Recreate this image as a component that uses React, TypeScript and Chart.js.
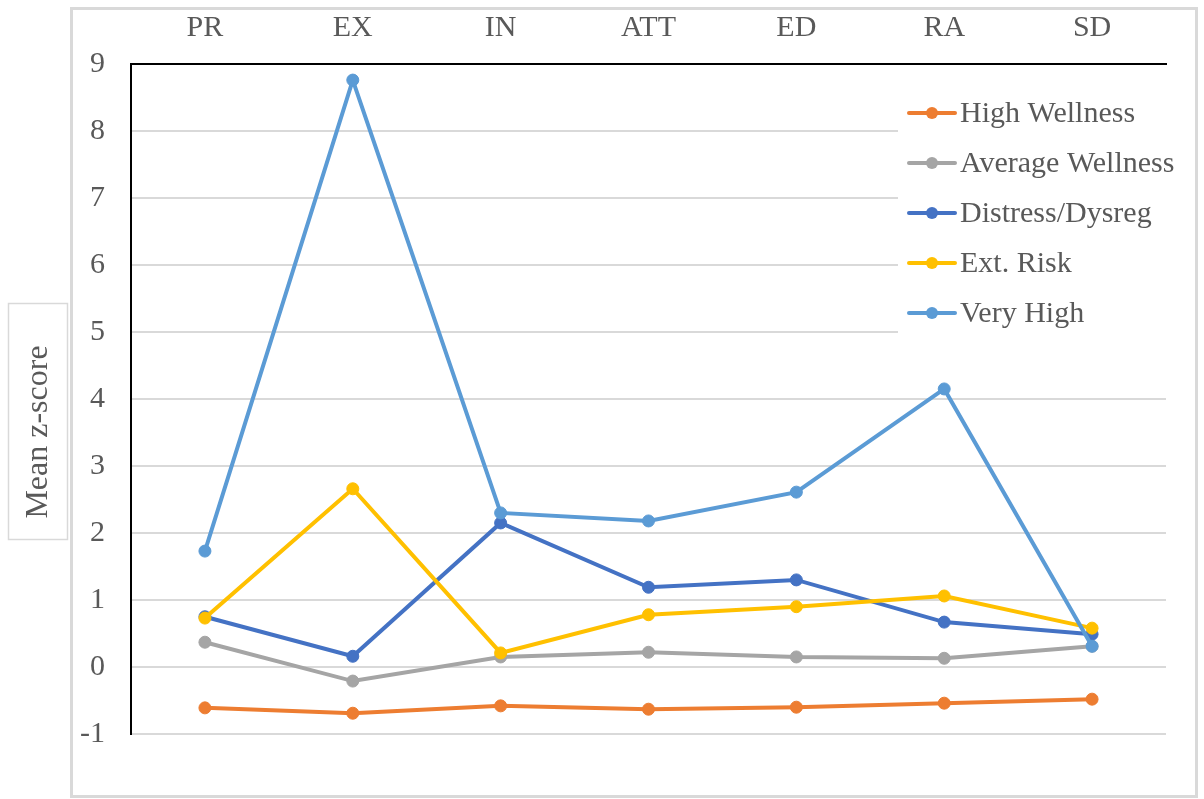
import React, { useEffect, useRef } from "react";
import { Chart, registerables } from "chart.js";

Chart.register(...registerables);

const categories = ["PR", "EX", "IN", "ATT", "ED", "RA", "SD"];
const seriesNames = ["High Wellness", "Average Wellness", "Distress/Dysreg", "Ext. Risk", "Very High"];
const highWellness = [-0.61, -0.69, -0.58, -0.63, -0.6, -0.54, -0.48];
const averageWellness = [0.37, -0.21, 0.15, 0.22, 0.15, 0.13, 0.31];
const distressDysreg = [0.75, 0.16, 2.15, 1.19, 1.3, 0.67, 0.49];
const extRisk = [0.73, 2.66, 0.21, 0.78, 0.9, 1.06, 0.58];
const veryHigh = [1.73, 8.76, 2.3, 2.18, 2.61, 4.15, 0.31];
const seriesColors = ["#ED7D31", "#A5A5A5", "#4472C4", "#FFC000", "#5B9BD5"];
const yTitle = "Mean z-score";

const FONT = '"Liberation Serif", "Times New Roman", serif';
const TEXT = "#595959";
const GRID = "#d9d9d9";

const framePlugin = {
  id: "frame",
  beforeDraw(chart: any) {
    const ctx = chart.ctx;
    ctx.save();
    ctx.fillStyle = "#ffffff";
    ctx.fillRect(0, 0, chart.width, chart.height);
    ctx.strokeStyle = GRID;
    ctx.lineWidth = 3;
    ctx.strokeRect(71.5, 8.5, 1125, 788);
    ctx.lineWidth = 1.5;
    ctx.strokeRect(8.5, 303.5, 59, 236);
    ctx.translate(39, 432);
    ctx.rotate(-Math.PI / 2);
    ctx.fillStyle = TEXT;
    ctx.font = `32px ${FONT}`;
    ctx.textAlign = "center";
    ctx.textBaseline = "middle";
    ctx.fillText(yTitle, 0, 0);
    ctx.restore();
  },
};

const legendPlugin = {
  id: "customLegend",
  afterDraw(chart: any) {
    const ctx = chart.ctx;
    ctx.save();
    ctx.fillStyle = "#ffffff";
    ctx.fillRect(898, 88, 280, 252);
    const ds = chart.data.datasets;
    ds.forEach((d: any, i: number) => {
      const y = 113 + i * 50;
      ctx.strokeStyle = d.borderColor;
      ctx.lineWidth = 4;
      ctx.lineCap = "round";
      ctx.beginPath();
      ctx.moveTo(909, y);
      ctx.lineTo(955, y);
      ctx.stroke();
      ctx.fillStyle = d.borderColor;
      ctx.beginPath();
      ctx.arc(932, y, 6, 0, Math.PI * 2);
      ctx.fill();
      ctx.fillStyle = TEXT;
      ctx.font = `30px ${FONT}`;
      ctx.textAlign = "left";
      ctx.textBaseline = "middle";
      ctx.fillText(d.label, 960, y + 1);
    });
    ctx.restore();
  },
};

export default function App() {
  const ref = useRef<HTMLCanvasElement>(null);
  useEffect(() => {
    if (!ref.current) return;
    const values = [highWellness, averageWellness, distressDysreg, extRisk, veryHigh];
    const chart = new Chart(ref.current, {
      type: "line",
      data: {
        labels: categories,
        datasets: values.map((v, i) => ({
          label: seriesNames[i],
          data: v,
          borderColor: seriesColors[i],
          backgroundColor: seriesColors[i],
          borderWidth: 4,
          pointRadius: 6,
          pointBorderWidth: 1,
          pointBackgroundColor: seriesColors[i],
          pointBorderColor: seriesColors[i],
          tension: 0,
          order: values.length - 1 - i,
        })),
      },
      options: {
        responsive: false,
        animation: false,
        layout: { padding: { left: 0, top: 0, right: 38, bottom: 65 } },
        plugins: {
          legend: { display: false },
          tooltip: { enabled: false },
        },
        scales: {
          x: {
            position: "top",
            offset: true,
            grid: { display: false, drawTicks: false },
            border: { display: true, color: "#000000", width: 2 },
            ticks: { color: TEXT, font: { family: FONT, size: 30 }, padding: 18 },
            afterFit: (s: any) => {
              s.height = 64;
            },
          },
          y: {
            min: -1,
            max: 9,
            ticks: { stepSize: 1, color: TEXT, font: { family: FONT, size: 30 }, padding: 26 },
            grid: { color: GRID, lineWidth: 2, drawTicks: false },
            border: { display: true, color: "#000000", width: 2 },
            afterFit: (s: any) => {
              s.width = 131;
            },
          },
        },
      },
      plugins: [framePlugin, legendPlugin],
    });
    return () => chart.destroy();
  }, []);
  return (
    <div style={{ position: "fixed", left: 0, top: 0, width: 1204, height: 799 }}>
      <canvas ref={ref} width={1204} height={799} style={{ display: "block" }} />
    </div>
  );
}
